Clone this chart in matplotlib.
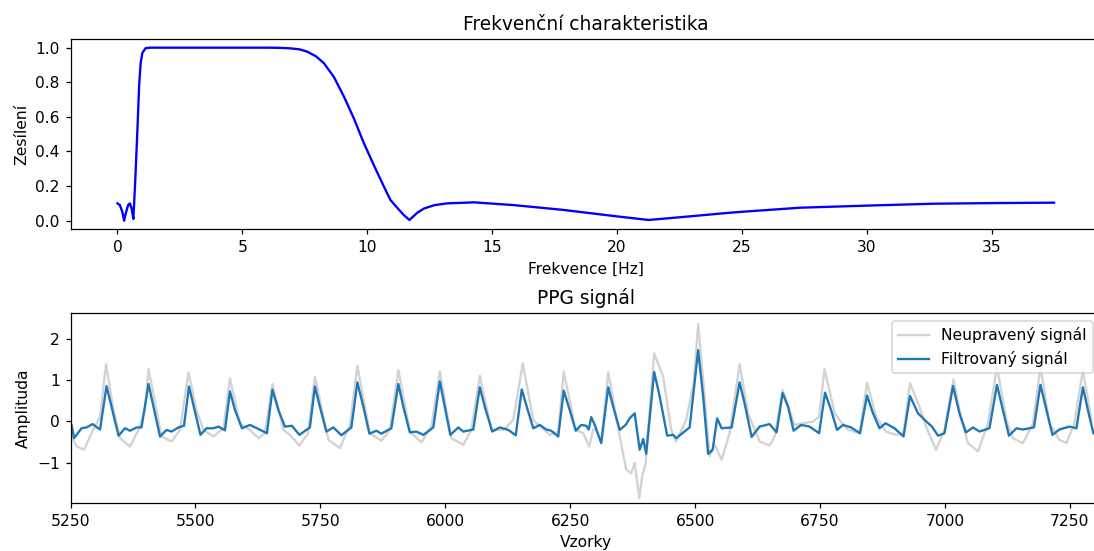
import matplotlib
matplotlib.use("Agg")
import matplotlib.pyplot as plt
from matplotlib.ticker import MultipleLocator

# Frequency response
freq = [0, 0.1, 0.2, 0.27, 0.35, 0.43, 0.5, 0.57, 0.64, 0.72, 0.8, 0.87, 0.93, 1.0,
        1.13, 1.3, 2, 4, 6, 6.5, 6.93, 7.3, 7.6, 7.95, 8.27, 8.67, 9.07, 9.47, 9.87,
        10.27, 10.67, 10.93, 11.2, 11.45, 11.69, 12.0, 12.27, 12.7, 13.2, 14.27, 15.87,
        17.87, 19.87, 21.27, 22.53, 23.3, 24.53, 25.07, 27.33, 30, 32.67, 35.3, 37.5]
gain = [0.10, 0.09, 0.05, 0.0, 0.05, 0.09, 0.10, 0.07, 0.01, 0.25, 0.52, 0.78, 0.91, 0.97,
        0.997, 1.0, 1.0, 1.0, 1.0, 0.999, 0.996, 0.99, 0.977, 0.95, 0.91, 0.83, 0.717, 0.59,
        0.447, 0.32, 0.197, 0.12, 0.075, 0.035, 0.004, 0.045, 0.07, 0.09, 0.10, 0.106, 0.09,
        0.062, 0.027, 0.004, 0.02, 0.03, 0.046, 0.052, 0.075, 0.087, 0.098, 0.102, 0.104]

# Raw PPG signal (key points)
raw_x = [5252, 5262, 5277, 5292, 5309, 5321, 5336, 5349, 5369, 5386, 5399, 5406, 5422,
         5432, 5452, 5469, 5486, 5502, 5516, 5536, 5556, 5569, 5589, 5609, 5626, 5639,
         5654, 5676, 5689, 5708, 5725, 5739, 5766, 5789, 5809, 5824, 5849, 5872, 5889,
         5906, 5929, 5952, 5972, 5989, 6012, 6036, 6052, 6069, 6092, 6116, 6136, 6155,
         6176, 6209, 6226, 6237, 6261, 6276, 6288, 6296, 6302, 6312, 6326, 6349, 6362,
         6372, 6379, 6388, 6394, 6401, 6409, 6418, 6436, 6452, 6462, 6482, 6497, 6506,
         6519, 6529, 6539, 6553, 6569, 6589, 6606, 6629, 6649, 6659, 6675, 6699, 6716,
         6736, 6748, 6759, 6779, 6789, 6806, 6829, 6844, 6862, 6882, 6902, 6917, 6930,
         6949, 6962, 6982, 6999, 7017, 7033, 7046, 7066, 7086, 7104, 7123, 7136, 7156,
         7176, 7191, 7209, 7229, 7243, 7259, 7276, 7293]
raw_y = [-0.37, -0.61, -0.69, -0.29, 0.11, 1.38, 0.27, -0.41, -0.61, -0.21, 0.27, 1.26, 0.27,
         -0.37, -0.49, -0.21, 1.18, 0.27, -0.21, -0.37, -0.17, 1.04, -0.05, -0.21, -0.41, -0.29,
         0.90, -0.21, -0.33, -0.59, -0.30, 1.08, -0.45, -0.65, -0.09, 1.34, -0.29, -0.47, -0.21,
         1.24, -0.25, -0.51, -0.13, 1.21, -0.41, -0.57, -0.21, 1.10, -0.21, -0.21, 0.03, 1.40,
         0.03, -0.33, -0.25, 1.20, -0.21, -0.29, -0.62, -0.21, -0.21, -0.49, 1.19, -0.37, -1.17,
         -1.26, -1.01, -1.86, -1.34, -1.00, 0.27, 1.64, 1.08, -0.21, -0.49, 0.03, 0.92, 2.35,
         0.60, -0.85, -0.57, -0.93, -0.29, 1.38, 0.19, -0.49, -0.59, -0.37, 0.76, -0.09, -0.05,
         -0.01, 0.11, 1.26, 0.19, 0.03, -0.21, -0.29, 0.93, 0.11, -0.25, -0.33, -0.29, 0.92,
         0.35, -0.13, -0.69, -0.21, 1.01, 0.03, -0.53, -0.73, -0.05, 1.32, 0.03, -0.41, -0.53,
         -0.05, 1.33, -0.05, -0.45, -0.53, -0.05, 1.24, 0.03]

# Filtered PPG signal (key points)
filt_x = [5252, 5257, 5272, 5282, 5294, 5309, 5322, 5332, 5346, 5359, 5369, 5382, 5392,
          5406, 5416, 5429, 5442, 5452, 5466, 5477, 5487, 5499, 5510, 5522, 5536, 5546,
          5559, 5569, 5579, 5593, 5609, 5623, 5643, 5654, 5666, 5679, 5693, 5708, 5729,
          5739, 5749, 5762, 5776, 5792, 5812, 5824, 5836, 5848, 5862, 5872, 5892, 5906,
          5916, 5929, 5942, 5956, 5976, 5989, 5999, 6010, 6026, 6036, 6056, 6069, 6079,
          6094, 6109, 6126, 6141, 6153, 6163, 6176, 6189, 6202, 6212, 6226, 6237, 6249,
          6261, 6272, 6282, 6287, 6292, 6299, 6312, 6326, 6336, 6349, 6361, 6369, 6379,
          6389, 6396, 6402, 6418, 6429, 6444, 6456, 6462, 6489, 6506, 6516, 6526, 6535,
          6544, 6553, 6573, 6589, 6599, 6613, 6629, 6649, 6663, 6675, 6686, 6697, 6712,
          6729, 6748, 6760, 6772, 6784, 6796, 6812, 6830, 6844, 6856, 6869, 6881, 6899,
          6917, 6930, 6946, 6962, 6974, 6986, 6999, 7016, 7029, 7042, 7056, 7069, 7089,
          7104, 7116, 7128, 7143, 7156, 7169, 7178, 7191, 7203, 7215, 7229, 7249, 7263,
          7276, 7286, 7297]
filt_y = [-0.09, -0.41, -0.17, -0.15, -0.07, -0.20, 0.85, 0.35, -0.35, -0.17, -0.23, -0.15, -0.15,
          0.90, 0.35, -0.37, -0.21, -0.25, -0.15, -0.11, 0.84, 0.23, -0.33, -0.17, -0.17, -0.13,
          -0.22, 0.72, 0.27, -0.17, -0.09, -0.17, -0.29, 0.76, 0.27, -0.13, -0.11, -0.33, -0.15,
          0.84, 0.35, -0.25, -0.15, -0.34, -0.15, 0.94, 0.35, -0.30, -0.23, -0.30, -0.17, 0.90,
          0.35, -0.27, -0.25, -0.33, -0.15, 0.96, 0.35, -0.33, -0.15, -0.25, -0.20, 0.82, 0.35,
          -0.25, -0.15, -0.21, -0.34, 0.77, 0.35, -0.17, -0.09, -0.20, -0.23, -0.37, 0.74, 0.27,
          -0.23, -0.09, -0.11, -0.20, 0.10, -0.09, -0.53, 0.82, 0.35, -0.21, -0.09, 0.07, 0.19,
          -0.69, -0.43, -0.79, 1.19, 0.60, -0.35, -0.33, -0.41, -0.15, 1.72, 0.60, -0.79, -0.69,
          0.07, -0.17, -0.15, 0.94, 0.43, -0.38, -0.13, -0.07, -0.27, 0.68, 0.35, -0.23, -0.09,
          -0.13, -0.29, 0.69, 0.27, -0.21, -0.09, -0.15, -0.29, 0.62, 0.19, -0.17, -0.05, -0.17,
          -0.37, 0.61, 0.19, 0.00, -0.13, -0.35, -0.29, 0.85, 0.19, -0.27, -0.15, -0.25, -0.17,
          0.88, 0.27, -0.35, -0.17, -0.20, -0.17, -0.15, 0.88, 0.27, -0.33, -0.20, -0.13, -0.17,
          0.82, 0.27, -0.29]

fig = plt.figure(figsize=(1094 / 112, 551 / 112), dpi=112)

# ----------- FREQUENCY RESPONSE --------------
ax1 = fig.add_axes([0.0645, 0.5838, 0.9418, 0.3454])
ax1.plot(freq, gain, color="blue")
ax1.set_xlim(-1.875, 39.375)
ax1.set_ylim(-0.05, 1.05)
ax1.set_title("Frekvenční charakteristika")
ax1.set_xlabel("Frekvence [Hz]")
ax1.set_ylabel("Zesílení")

# ----------- PPG SIGNAL --------------
ax2 = fig.add_axes([0.0645, 0.0877, 0.9418, 0.3437])
ax2.plot(raw_x, raw_y, color="lightgray", label="Neupravený signál")
ax2.plot(filt_x, filt_y, label="Filtrovaný signál")
ax2.set_xlim(5250, 7312)
ax2.set_ylim(-1.97, 2.61)
ax2.xaxis.set_major_locator(MultipleLocator(250))
ax2.set_title("PPG signál")
ax2.set_xlabel("Vzorky")
ax2.set_ylabel("Amplituda")
ax2.legend(loc="upper right")

plt.savefig("out.png", dpi=112)
